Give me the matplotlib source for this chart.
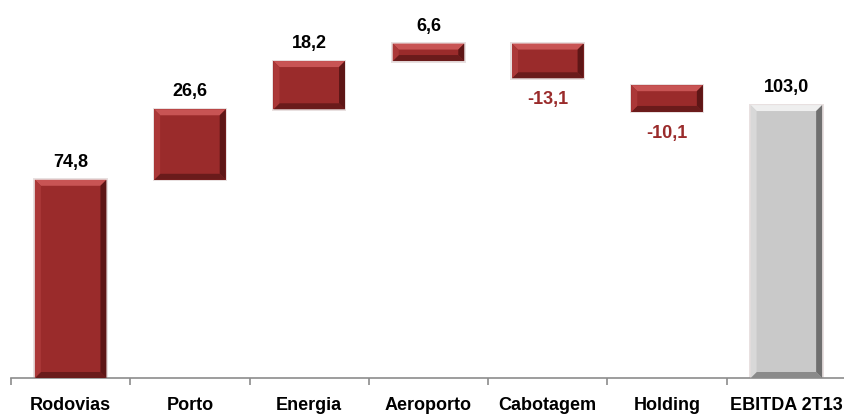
import numpy as np
import matplotlib
matplotlib.use('Agg')
import matplotlib.pyplot as plt
from matplotlib.patches import Polygon, Rectangle

plt.rcParams['font.family'] = ['Liberation Sans Narrow', 'Liberation Sans', 'DejaVu Sans']

categories = ["Rodovias", "Porto", "Energia", "Aeroporto", "Cabotagem", "Holding", "EBITDA 2T13"]
values = [74.8, 26.6, 18.2, 6.6, -13.1, -10.1, 103.0]
# invisible base of each floating bar
bases = [0, 74.8, 101.4, 119.6, 113.1, 100.4, 0]
labels = ["74,8", "26,6", "18,2", "6,6", "-13,1", "-10,1", "103,0"]

red = {'face': '#9a2b2b', 'top': '#c85454', 'left': '#ab3838', 'right': '#5e1616', 'bottom': '#6a1b1b'}
grey = {'face': '#c9c9c9', 'top': '#efefef', 'left': '#d8d8d8', 'right': '#6f6f6f', 'bottom': '#8a8a8a'}

fig = plt.figure(figsize=(8.45, 4.16), dpi=100)
ax = fig.add_axes([11/845, 38/416, 835/845, 378/416])
ax.set_xlim(-0.5, 6.5)
ax.set_ylim(0, 378/2.65)

width = 0.6
px_x = 7.0 / 835           # 1 px in x data units
px_y = (378/2.65) / 378    # 1 px in y data units
bev = 6

def bevel_bar(x, bottom, top, col):
    x0, x1 = x - width/2, x + width/2
    h = top - bottom
    bx = min(bev * px_x, width * 0.2)
    by = min(bev * px_y, h * 0.35)
    # soft glow
    ax.add_patch(Rectangle((x0 - 1.5*px_x, bottom - 1.5*px_y), width + 3*px_x, h + 3*px_y,
                           facecolor='#e8e0e0', edgecolor='none', zorder=1))
    ax.add_patch(Rectangle((x0, bottom), width, h, facecolor=col['face'], edgecolor='none', zorder=2))
    ax.add_patch(Polygon([(x0, top), (x1, top), (x1 - bx, top - by), (x0 + bx, top - by)],
                         closed=True, facecolor=col['top'], edgecolor='none', zorder=3))
    ax.add_patch(Polygon([(x0, bottom), (x1, bottom), (x1 - bx, bottom + by), (x0 + bx, bottom + by)],
                         closed=True, facecolor=col['bottom'], edgecolor='none', zorder=3))
    ax.add_patch(Polygon([(x0, bottom), (x0, top), (x0 + bx, top - by), (x0 + bx, bottom + by)],
                         closed=True, facecolor=col['left'], edgecolor='none', zorder=3))
    ax.add_patch(Polygon([(x1, bottom), (x1, top), (x1 - bx, top - by), (x1 - bx, bottom + by)],
                         closed=True, facecolor=col['right'], edgecolor='none', zorder=3))

for i, v in enumerate(values):
    lo = bases[i]
    hi = bases[i] + abs(v)
    col = grey if i == len(values) - 1 else red
    bevel_bar(i, lo, hi, col)
    if v >= 0:
        ax.text(i, hi + 9*px_y, labels[i], ha='center', va='bottom', fontsize=13,
                fontweight='bold', color='black')
    else:
        ax.text(i, lo - 13*px_y, labels[i], ha='center', va='top', fontsize=13,
                fontweight='bold', color='#9a2b2b')

for s in ['top', 'right', 'left']:
    ax.spines[s].set_visible(False)
ax.spines['bottom'].set_color('#8c8c8c')
ax.spines['bottom'].set_linewidth(1.2)
ax.set_yticks([])
ax.set_xticks(np.arange(-0.5, 6.5, 1.0), minor=False)
ax.set_xticklabels([])
ax.tick_params(axis='x', which='major', direction='out', length=5, color='#8c8c8c', width=1.2)
ax.set_xticks(np.arange(len(categories)), minor=True)
ax.set_xticklabels(categories, minor=True, fontsize=13, fontweight='bold')
ax.tick_params(axis='x', which='minor', length=0, pad=14)

plt.savefig("out.png")
